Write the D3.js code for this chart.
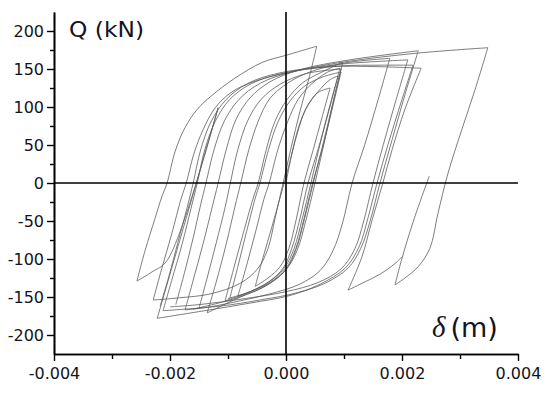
<!DOCTYPE html>
<html>
<head>
<meta charset="utf-8">
<script src="https://cdn.jsdelivr.net/npm/d3@7"></script>
<style>
  html, body { margin: 0; padding: 0; background: #fff; }
  svg { display: block; }
</style>
</head>
<body>
<svg id="chart" width="550" height="396"></svg>
<script>
// hysteresis record, one array per cycle: [displacement (m), load Q (kN)]
const cycle1 = [[0, 0], [0.00010, 38], [0.00022, 74], [0.00038, 103], [0.00055, 119], [0.00076, 125],
  [0.00062, 86], [0.00047, 44], [0.00031, 0], [0.00017, -50], [0.00005, -86], [-0.00010, -110],
  [-0.00031, -125], [-0.00053, -136]];
const cycle2 = [[-0.00053, -136], [-0.00040, -99], [-0.00024, -57], [-0.00009, -16], [0.00005, 23],
  [0.00019, 64], [0.00034, 97], [0.00055, 120], [0.00076, 136], [0.00090, 141],
  [0.00076, 103], [0.00059, 54], [0.00038, 0], [0.00024, -47], [0.00010, -86], [-0.00005, -112],
  [-0.00028, -129], [-0.00059, -142], [-0.00083, -149]];
const cycle3 = [[-0.00083, -149], [-0.00067, -106], [-0.00052, -63], [-0.00038, -21], [-0.00029, 0],
  [-0.00014, 44], [0.00003, 81], [0.00021, 110], [0.00045, 131], [0.00072, 146], [0.00093, 151],
  [0.00078, 107], [0.00060, 55], [0.00043, 0], [0.00028, -47], [0.00014, -86], [-0.00003, -112],
  [-0.00031, -131], [-0.00071, -146], [-0.00105, -155]];
const cycle4 = [[-0.00105, -155], [-0.00090, -112], [-0.00074, -67], [-0.00057, -21], [-0.00048, 0],
  [-0.00034, 44], [-0.00019, 81], [0.00002, 110], [0.00029, 132], [0.00062, 146], [0.00098, 159],
  [0.00084, 116], [0.00067, 57], [0.00050, 0], [0.00034, -50], [0.00019, -89], [-0.00002, -116],
  [-0.00036, -136], [-0.00079, -150], [-0.00136, -171]];
const cycle5 = [[-0.00136, -171], [-0.00121, -132], [-0.00103, -80], [-0.00088, -31], [-0.00078, 0],
  [-0.00064, 44], [-0.00048, 81], [-0.00028, 111], [0.00002, 131], [0.00041, 146], [0.00102, 158],
  [0.00179, 164],
  [0.00159, 110], [0.00136, 51], [0.00114, 0], [0.00097, -54], [0.00081, -89], [0.00059, -115],
  [0.00024, -133], [-0.00028, -146], [-0.00079, -155], [-0.00131, -163], [-0.00174, -167]];
const cycle6 = [[-0.00174, -167], [-0.00159, -125], [-0.00143, -80], [-0.00128, -34], [-0.00117, 0],
  [-0.00103, 44], [-0.00086, 84], [-0.00062, 112], [-0.00028, 133], [0.00024, 149], [0.00110, 162],
  [0.00228, 174],
  [0.00205, 116], [0.00183, 57], [0.00162, 0], [0.00145, -50], [0.00129, -86], [0.00107, -112],
  [0.00067, -132], [0.00016, -145], [-0.00045, -154], [-0.00114, -162], [-0.00212, -168]];
const cycle7 = [[-0.00212, -168], [-0.00197, -128], [-0.00179, -80], [-0.00164, -34], [-0.00153, 0],
  [-0.00140, 44], [-0.00122, 81], [-0.00097, 110], [-0.00059, 131], [-0.00002, 145], [0.00093, 154],
  [0.00162, 155], [0.00219, 155],
  [0.00200, 110], [0.00176, 51], [0.00157, 0], [0.00141, -47], [0.00126, -84], [0.00102, -112],
  [0.00059, -133], [0.00007, -148], [-0.00062, -158], [-0.00140, -168], [-0.00222, -178]];
const cycle8 = [[-0.00217, -162], [-0.00202, -123], [-0.00186, -77], [-0.00171, -34], [-0.00160, 0],
  [-0.00147, 44], [-0.00129, 81], [-0.00103, 110], [-0.00066, 131], [-0.00010, 145], [0.00076, 153],
  [0.00162, 153], [0.00233, 151],
  [0.00205, 97], [0.00183, 44], [0.00167, 0], [0.00148, -50], [0.00131, -97], [0.00107, -141],
  [0.00131, -132], [0.00162, -120], [0.00188, -106], [0.00200, -97]];
const cycle9 = [[-0.00222, -178], [-0.00117, 99], [-0.00205, -102], [-0.00231, -117], [-0.00257, -129],
  [-0.00243, -89], [-0.00226, -47], [-0.00214, -18], [-0.00205, 0], [-0.00191, 42], [-0.00174, 73],
  [-0.00153, 97], [-0.00128, 115], [-0.00088, 138], [-0.00040, 159], [0, 168], [0.00053, 180],
  [0.00041, 142], [0.00024, 94], [0.00009, 47], [-0.00005, 0], [-0.00019, -47], [-0.00031, -86],
  [-0.00048, -112], [-0.00079, -132], [-0.00131, -146], [-0.00183, -151], [-0.00229, -154]];
const cycle10 = [[-0.00229, -154], [-0.00214, -112], [-0.00197, -67], [-0.00181, -21], [-0.00172, 0],
  [-0.00159, 38], [-0.00143, 70], [-0.00122, 99], [-0.00093, 120], [-0.00053, 134], [0.00002, 145],
  [0.00098, 159], [0.00228, 171], [0.00348, 178],
  [0.00326, 123], [0.00303, 70], [0.00279, 12], [0.00262, -40], [0.00248, -86], [0.00228, -110],
  [0.00205, -125], [0.00188, -134],
  [0.00200, -99], [0.00221, -47], [0.00247, 9]];
const cycle11 = [[-0.00190, -160], [-0.00175, -118], [-0.00160, -72], [-0.00147, -28], [-0.00138, 0],
  [-0.00124, 44], [-0.00106, 82], [-0.00081, 110], [-0.00045, 131], [0.00010, 146], [0.00090, 156],
  [0.00160, 160], [0.00210, 162],
  [0.00190, 110], [0.00168, 51], [0.00150, 0], [0.00134, -50], [0.00119, -86], [0.00095, -113],
  [0.00055, -131], [0.00000, -143], [-0.00070, -152], [-0.00150, -160], [-0.00200, -163]];
const cycle12 = [[-0.00097, -152], [-0.00083, -110], [-0.00068, -64], [-0.00053, -20], [-0.00045, 0],
  [-0.00030, 44], [-0.00014, 80], [0.00007, 108], [0.00033, 128], [0.00065, 140], [0.00095, 146],
  [0.00082, 105], [0.00066, 55], [0.00046, 0], [0.00031, -47], [0.00017, -86], [0.00000, -112],
  [-0.00026, -130], [-0.00062, -143], [-0.00100, -152]];
const cycle13 = [[-0.00150, -165], [-0.00136, -125], [-0.00120, -78], [-0.00105, -32], [-0.00096, 0],
  [-0.00083, 44], [-0.00066, 82], [-0.00043, 110], [-0.00010, 130], [0.00035, 144], [0.00095, 150],
  [0.00082, 108], [0.00065, 55], [0.00047, 0], [0.00032, -47], [0.00018, -86], [0.00001, -113],
  [-0.00030, -133], [-0.00080, -150], [-0.00160, -166]];
const cycles = [cycle1, cycle2, cycle3, cycle4, cycle5, cycle6, cycle7, cycle8, cycle9, cycle10,
  cycle11, cycle12, cycle13];

const xTicks = [-0.004, -0.002, 0, 0.002, 0.004];
const xMinorTicks = [-0.003, -0.001, 0.001, 0.003];
const yTicks = [-200, -150, -100, -50, 0, 50, 100, 150, 200];
const yMinorTicks = [-175, -125, -75, -25, 25, 75, 125, 175];
const xDomain = [-0.004, 0.004];
const yDomain = [-225, 225];

const svg = d3.select('#chart');
const font = 'DejaVu Sans, Liberation Sans, sans-serif';

const x = d3.scaleLinear().domain(xDomain).range([54, 518]);
const y = d3.scaleLinear().domain(yDomain).range([354, 12]);

// cut a cycle into branches at every load reversal so the corners stay sharp
function branches(cycle) {
  const out = [];
  let cur = [cycle[0]];
  let dir = 0;
  for (let i = 1; i < cycle.length; i++) {
    const s = Math.sign(cycle[i][0] - cycle[i - 1][0]);
    if (dir !== 0 && s !== 0 && s !== dir) {
      out.push(cur);
      cur = [cycle[i - 1]];
    }
    if (s !== 0) dir = s;
    cur.push(cycle[i]);
  }
  out.push(cur);
  return out;
}

const line = d3.line()
  .x(d => x(d[0]))
  .y(d => y(d[1]))
  .curve(d3.curveCatmullRom.alpha(0.5));

svg.append('g')
  .selectAll('path')
  .data(cycles.flatMap(branches))
  .enter().append('path')
  .attr('fill', 'none')
  .attr('stroke', '#5c5c5c')
  .attr('stroke-width', 0.8)
  .attr('stroke-linejoin', 'round')
  .attr('d', line);

// zero lines
svg.append('line')
  .attr('x1', x(xDomain[0])).attr('x2', x(xDomain[1]))
  .attr('y1', y(0)).attr('y2', y(0))
  .attr('stroke', '#000').attr('stroke-width', 1.6);
svg.append('line')
  .attr('x1', x(0)).attr('x2', x(0))
  .attr('y1', y(yDomain[0])).attr('y2', y(yDomain[1]))
  .attr('stroke', '#000').attr('stroke-width', 1.6);

// axes
function styleAxis(g) {
  g.select('.domain').attr('stroke', '#000').attr('stroke-width', 1.6);
  g.selectAll('.tick line').attr('stroke', '#000').attr('stroke-width', 1.4);
  g.selectAll('text').attr('fill', '#141420').attr('font-size', 16).attr('font-family', font);
}

svg.append('g')
  .attr('transform', `translate(0,${y(yDomain[0])})`)
  .call(d3.axisBottom(x).tickValues(xMinorTicks).tickSize(5).tickSizeOuter(0).tickFormat(''))
  .call(styleAxis);
svg.append('g')
  .attr('transform', `translate(0,${y(yDomain[0])})`)
  .call(d3.axisBottom(x).tickValues(xTicks).tickSize(7).tickSizeOuter(0).tickPadding(7)
    .tickFormat(d => d.toFixed(3)))
  .call(styleAxis);

svg.append('g')
  .attr('transform', `translate(${x(xDomain[0])},0)`)
  .call(d3.axisLeft(y).tickValues(yMinorTicks).tickSize(4).tickSizeOuter(0).tickFormat(''))
  .call(styleAxis);
svg.append('g')
  .attr('transform', `translate(${x(xDomain[0])},0)`)
  .call(d3.axisLeft(y).tickValues(yTicks).tickSize(7).tickSizeOuter(0).tickPadding(3)
    .tickFormat(d => String(d)))
  .call(styleAxis);

// axis titles
svg.append('text')
  .attr('x', 69).attr('y', 37)
  .attr('font-family', font).attr('font-size', 21)
  .attr('textLength', 75).attr('lengthAdjust', 'spacingAndGlyphs')
  .attr('fill', '#141420')
  .text('Q (kN)');

const xt = svg.append('text')
  .attr('x', 432).attr('y', 337)
  .attr('fill', '#141420');
xt.append('tspan')
  .attr('font-family', 'Liberation Serif, serif').attr('font-style', 'italic').attr('font-size', 29)
  .text('δ');
xt.append('tspan')
  .attr('dx', 5)
  .attr('font-family', font).attr('font-size', 27)
  .text('(m)');
</script>
</body>
</html>
